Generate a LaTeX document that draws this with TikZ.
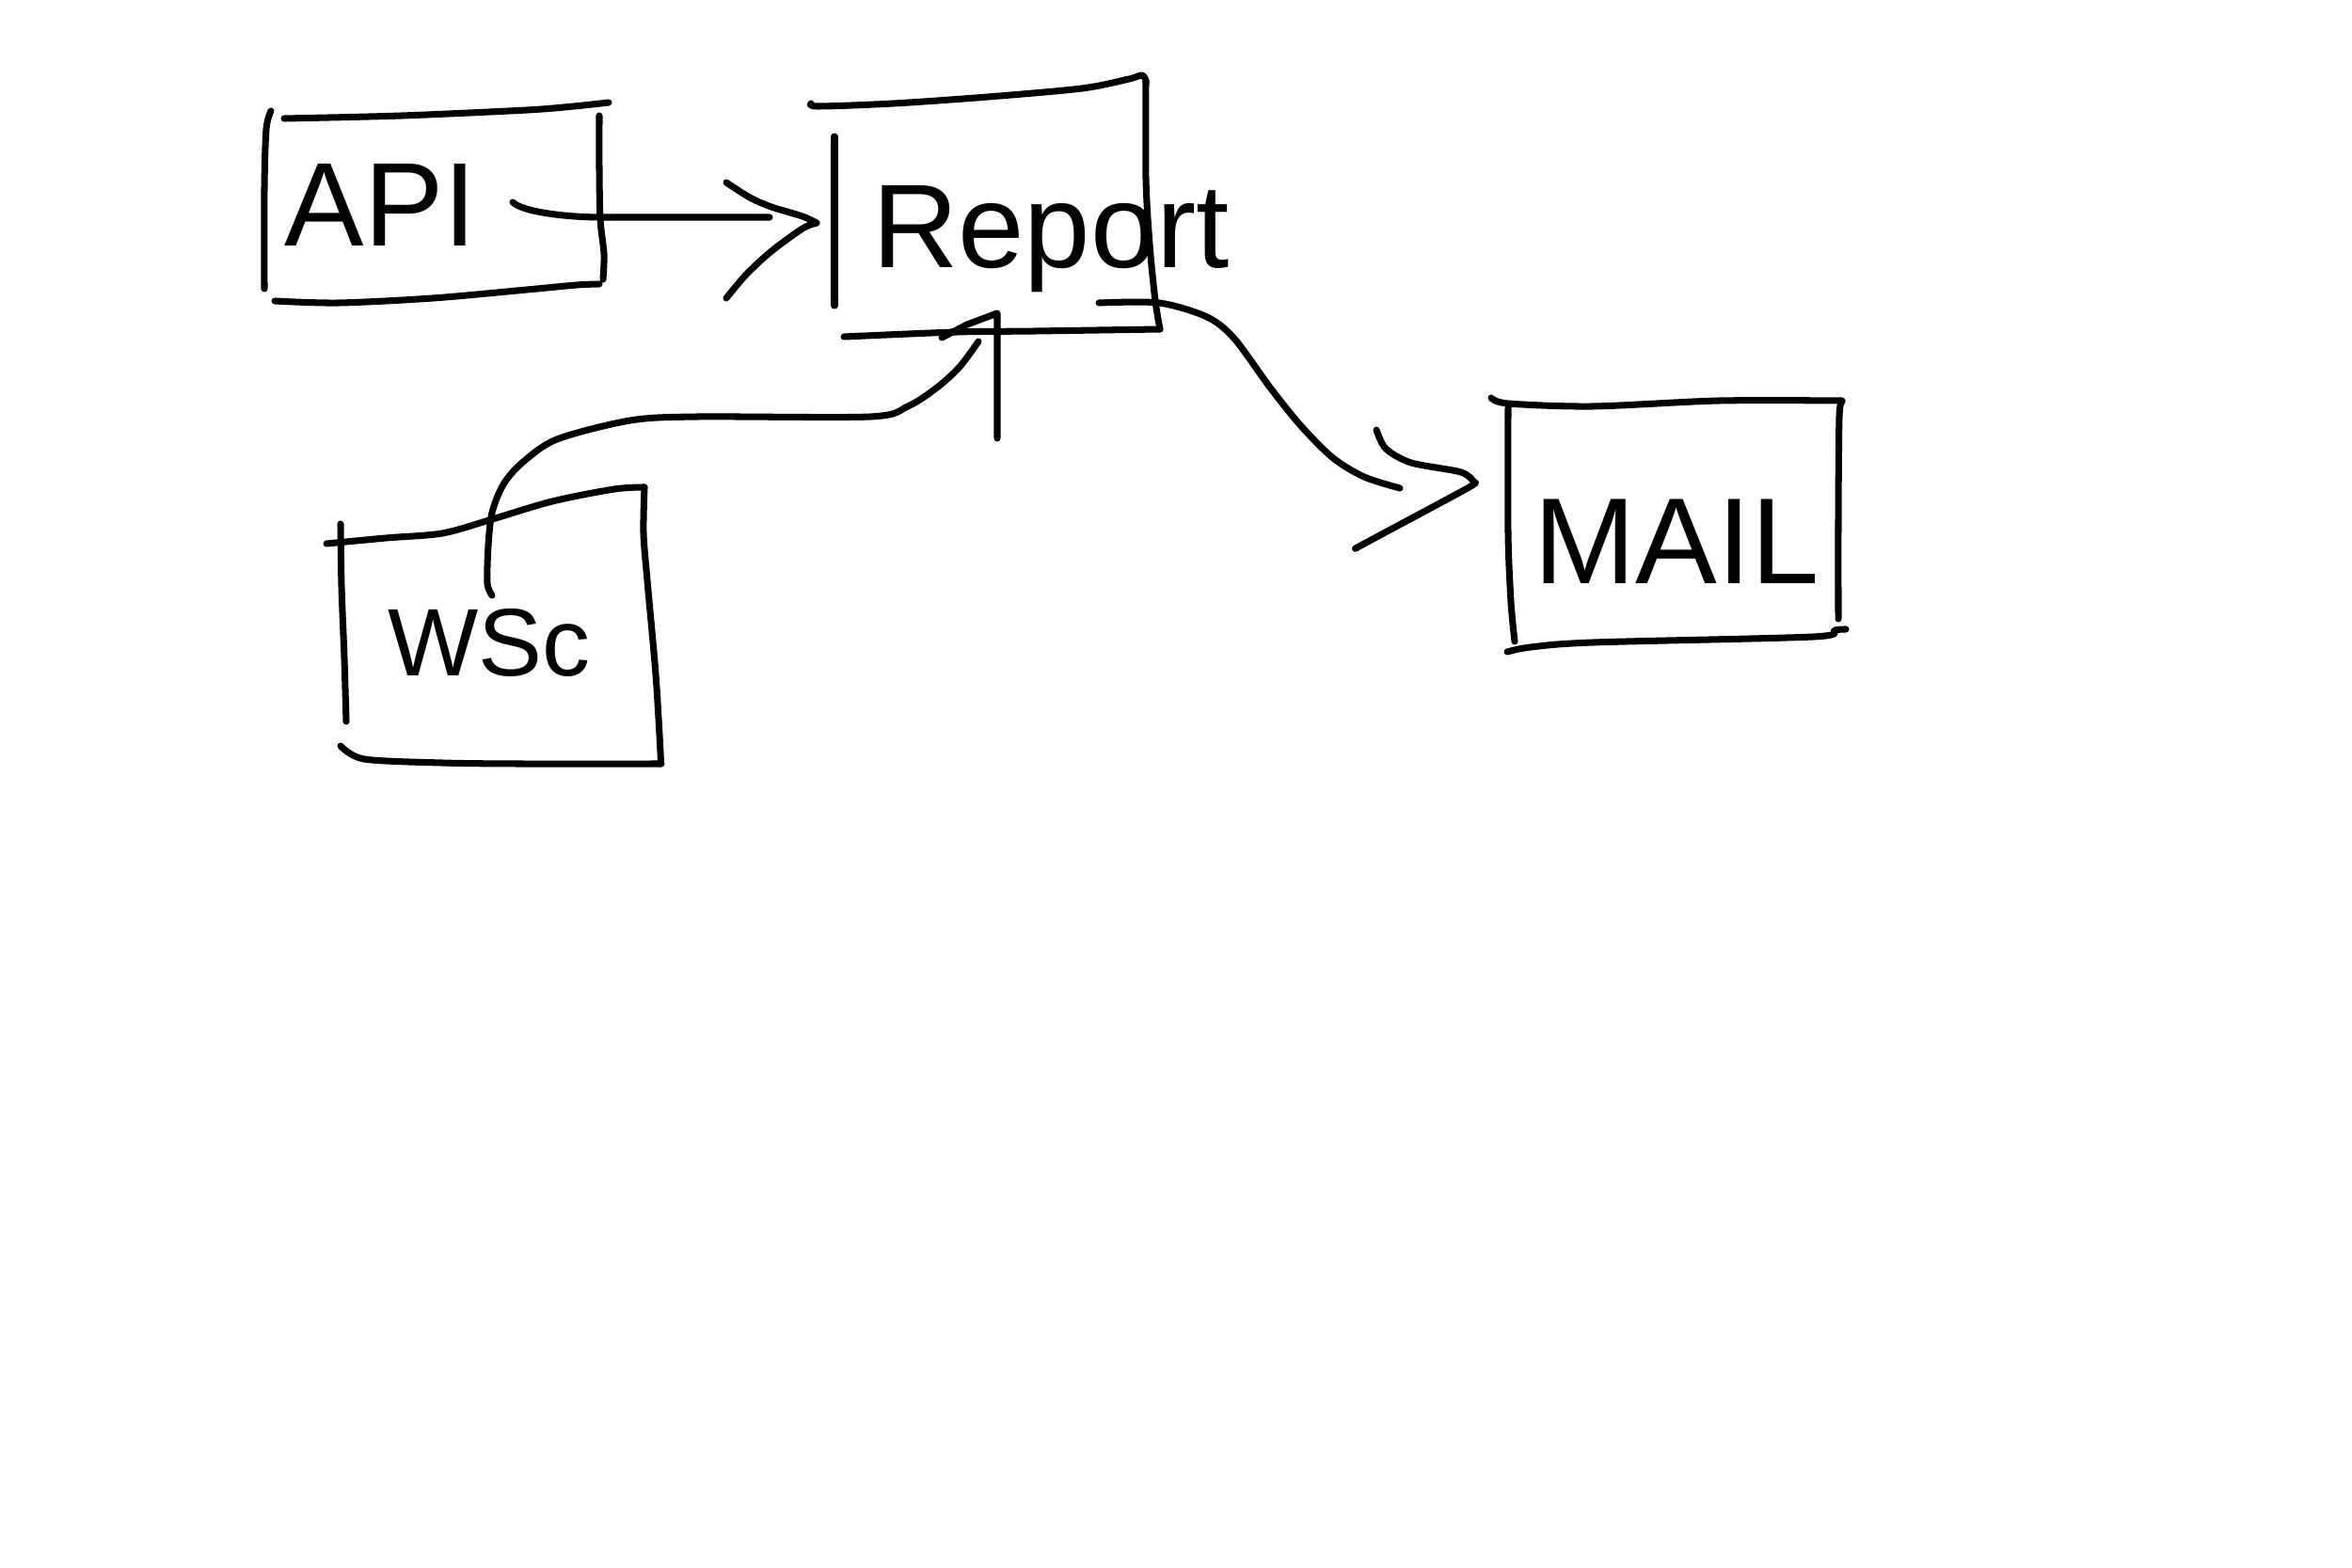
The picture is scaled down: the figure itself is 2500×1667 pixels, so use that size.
\documentclass[tikz,border=0pt]{standalone}
\usepackage{fontspec}
\setmainfont{Liberation Sans}
\begin{document}
\begin{tikzpicture}[x=0.01cm,y=-0.01cm, line width=2pt, line cap=round, line join=round,
  lbl/.style={anchor=base, inner sep=0pt},
  big/.style={font=\fontsize{36}{40}\selectfont},
  small/.style={font=\fontsize{29}{34}\selectfont}]
\fill[white] (0,0) rectangle (2500,1667);
\useasboundingbox (0,0) rectangle (2500,1667);

% ---------- API box ----------
\draw plot[smooth] coordinates {(288,118) (283,137) (281,200) (281,307)};
\draw plot[smooth] coordinates {(302,126) (427,123) (560,117) (610,113) (647,109)};
\draw plot[smooth] coordinates {(637,123) (637,180) (638,233) (642,270) (641,297)};
\draw plot[smooth] coordinates {(292,320) (360,322) (460,317) (560,308) (613,303) (637,302)};
\node[lbl,big] (api) at (405,262) {API};

% ---------- Report box ----------
\draw plot[smooth] coordinates {(862,110) (870,113) (950,110) (1050,103) (1150,94) (1200,84) (1214,80) (1218,86)};
\draw plot[smooth] coordinates {(1218,86) (1218,190) (1222,260) (1228,320) (1233,350)};
\draw plot[smooth] coordinates {(1233,350) (1100,352) (1017,353) (897,358)};
\draw (887,145) -- (887,325);
\node[lbl,big] (report) at (1117,285) {Report};

% ---------- WSc box ----------
\draw plot[smooth] coordinates {(347,578) (410,572) (470,567) (520,553) (587,533) (653,520) (685,518)};
\draw plot[smooth] coordinates {(685,518) (684,567) (688,617) (697,717) (702,800) (702,812)};
\draw plot[smooth] coordinates {(362,557) (363,623) (366,700) (368,767)};
\draw plot[smooth] coordinates {(362,793) (387,807) (470,811) (553,812) (703,812)};
\node[lbl,small] (wsc) at (520,718) {WSc};

% ---------- MAIL box ----------
\draw plot[smooth] coordinates {(1585,423) (1603,429) (1693,432) (1827,426) (1958,426)};
\draw plot[smooth] coordinates {(1958,427) (1955,443) (1954,550) (1954,658)};
\draw plot[smooth] coordinates {(1603,433) (1603,567) (1606,640) (1610,682)};
\draw plot[smooth] coordinates {(1602,693) (1627,688) (1693,683) (1927,677) (1950,670) (1962,669)};
\node[lbl,font=\fontsize{37}{42}\selectfont] (mail) at (1782,620) {MAIL};

% ---------- connector API -> Report ----------
\coordinate (c1a) at (545,215);
\coordinate (c1b) at (818,231);
\coordinate (h1) at (868,237);
\draw (c1a) .. controls (555,225) and (600,231) .. (640,231) -- (c1b);
\draw plot[smooth] coordinates {(772,194) (797,210) (820,220) (853,230) (h1)};
\draw plot[smooth] coordinates {(h1) (853,243) (820,267) (793,292) (772,317)};

% ---------- connector WSc -> Report ----------
\coordinate (c2a) at (523,633);
\coordinate (c2b) at (1040,363);
\coordinate (h2) at (1060,333);
\draw plot[smooth] coordinates {(c2a) (518,620) (519,580) (523,545) (535,515) (555,492) (592,467) (670,447) (741,443) (925,443) (965,432) (996,412) (1020,390) (c2b)};
\draw (1001,359) -- (1028,345) -- (h2) -- (1060,466);

% ---------- connector Report -> MAIL ----------
\coordinate (c3a) at (1168,322);
\coordinate (c3b) at (1488,519);
\coordinate (h3) at (1567,513);
\draw plot[smooth] coordinates {(c3a) (1232,322) (1283,337) (1312,360) (1350,412) (1383,453) (1417,487) (1450,507) (c3b)};
\draw plot[smooth] coordinates {(1463,457) (1473,477) (1500,492) (1553,502) (h3)};
\draw plot[smooth] coordinates {(h3) (1558,520) (1450,578) (1443,582)};
\end{tikzpicture}
\end{document}
